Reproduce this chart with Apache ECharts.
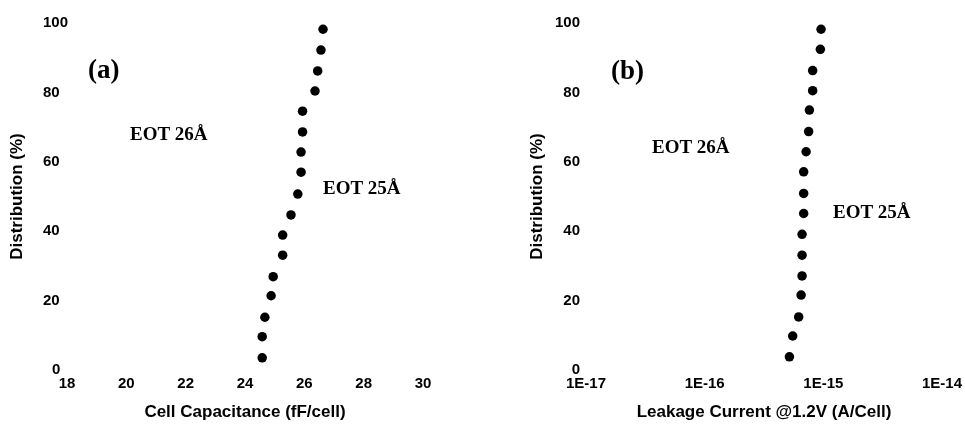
<!DOCTYPE html>
<html>
<head>
<meta charset="utf-8">
<script src="https://cdn.jsdelivr.net/npm/echarts@6/dist/echarts.min.js"></script>
<style>html,body{margin:0;padding:0;background:#fff}#c{width:965px;height:427px}</style>
</head>
<body>
<div id="c"></div>
<script>
// Panel (a): cell capacitance (fF/cell) vs distribution (%)
const capX = [26.63, 26.56, 26.45, 26.36, 25.94, 25.94, 25.89, 25.89, 25.78, 25.55, 25.27, 25.27, 24.95, 24.88, 24.67, 24.58, 24.58];
const capY = [98.2, 92.2, 86.2, 80.4, 74.6, 68.6, 62.8, 57.0, 50.7, 44.7, 38.9, 33.1, 26.9, 21.4, 15.2, 9.6, 3.5];
// Panel (b): leakage current (A/Cell) vs distribution (%)
const leakX = [9.57e-16, 9.44e-16, 8.13e-16, 8.13e-16, 7.63e-16, 7.52e-16, 7.16e-16, 6.83e-16, 6.83e-16, 6.83e-16, 6.62e-16, 6.62e-16, 6.62e-16, 6.50e-16, 6.20e-16, 5.52e-16, 5.18e-16];
const leakY = [98.2, 92.4, 86.3, 80.5, 74.9, 68.7, 62.9, 57.1, 50.9, 45.1, 39.1, 33.1, 27.1, 21.6, 15.3, 9.8, 3.8];
const capTicks = [18, 20, 22, 24, 26, 28, 30];
const distTicks = [0, 20, 40, 60, 80, 100];
const leakTicks = ['1E-17', '1E-16', '1E-15', '1E-14'];
const xTitleA = 'Cell Capacitance (fF/cell)';
const xTitleB = 'Leakage Current @1.2V (A/Cell)';
const yTitle = 'Distribution (%)';
const notes = [
  {t: '(a)', x: 88, y: 71, big: true},
  {t: 'EOT 26Å', x: 130, y: 135},
  {t: 'EOT 25Å', x: 323, y: 189},
  {t: '(b)', x: 611, y: 72, big: true},
  {t: 'EOT 26Å', x: 652, y: 148},
  {t: 'EOT 25Å', x: 833, y: 213}
];

const sans = '"Liberation Sans", Arial, sans-serif';
const serif = '"Liberation Serif", "Times New Roman", serif';
const lbl = {color: '#000', fontFamily: sans, fontWeight: 'bold', fontSize: 15};
const nameSt = {color: '#000', fontFamily: sans, fontWeight: 'bold', fontSize: 17};
const hidden = {axisLine: {show: false}, axisTick: {show: false}, splitLine: {show: false}};

const chart = echarts.init(document.getElementById('c'), null, {renderer: 'canvas'});
chart.setOption({
  backgroundColor: '#fff',
  animation: false,
  grid: [
    {left: 67, right: 542, top: 23, bottom: 57},
    {left: 586, right: 22, top: 23, bottom: 57}
  ],
  xAxis: [
    Object.assign({
      gridIndex: 0, type: 'value', min: capTicks[0], max: capTicks[capTicks.length - 1], interval: 2,
      name: xTitleA, nameLocation: 'middle', nameGap: 34, nameTextStyle: nameSt,
      axisLabel: Object.assign({margin: 6}, lbl)
    }, hidden),
    Object.assign({
      gridIndex: 1, type: 'log', logBase: 10, min: 1e-17, max: 1e-14,
      name: xTitleB, nameLocation: 'middle', nameGap: 34, nameTextStyle: nameSt,
      axisLabel: Object.assign({
        margin: 6,
        formatter: v => leakTicks[Math.round(Math.log10(v)) + 17] || ''
      }, lbl)
    }, hidden)
  ],
  yAxis: [
    Object.assign({
      gridIndex: 0, type: 'value', min: distTicks[0], max: distTicks[distTicks.length - 1], interval: 20,
      name: yTitle, nameLocation: 'middle', nameGap: 41, nameRotate: 90, nameTextStyle: nameSt,
      axisLabel: Object.assign({
        margin: 24, align: 'left',
        formatter: v => v === 0 ? '{z|0}' : String(v),
        rich: {z: Object.assign({padding: [0, 0, 0, 9]}, lbl)}
      }, lbl)
    }, hidden),
    Object.assign({
      gridIndex: 1, type: 'value', min: distTicks[0], max: distTicks[distTicks.length - 1], interval: 20,
      name: yTitle, nameLocation: 'middle', nameGap: 40, nameRotate: 90, nameTextStyle: nameSt,
      axisLabel: Object.assign({margin: 6}, lbl)
    }, hidden)
  ],
  series: [
    {type: 'scatter', xAxisIndex: 0, yAxisIndex: 0, symbolSize: 9.5,
     itemStyle: {color: '#000', opacity: 1}, data: capX.map((x, i) => [x, capY[i]])},
    {type: 'scatter', xAxisIndex: 1, yAxisIndex: 1, symbolSize: 9.5,
     itemStyle: {color: '#000', opacity: 1}, data: leakX.map((x, i) => [x, leakY[i]])}
  ],
  graphic: notes.map(n => ({
    type: 'text', x: n.x, y: n.y,
    style: {
      text: n.t, fill: '#000', fontFamily: serif, fontWeight: 'bold',
      fontSize: n.big ? 27 : 19, textAlign: 'left', textVerticalAlign: 'middle'
    }
  }))
});
</script>
</body>
</html>
